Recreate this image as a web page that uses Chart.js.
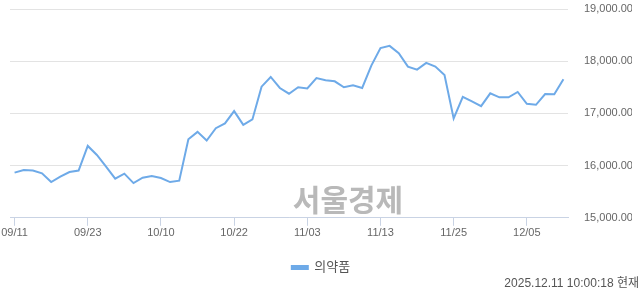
<!DOCTYPE html>
<html>
<head>
<meta charset="utf-8">
<script src="https://cdn.jsdelivr.net/npm/chart.js@4"></script>
<style>
  html, body { margin: 0; padding: 0; background: #fff; }
  #wrap { position: relative; width: 640px; height: 294px; }
  #stamp {
    position: absolute; right: 1px; top: 273px;
    font: 12px "Liberation Sans", "Noto Sans CJK KR", sans-serif;
    color: #555;
  }
</style>
</head>
<body>
<div id="wrap">
  <canvas id="chart" width="640" height="294"></canvas>
  <div id="stamp">2025.12.11 10:00:18 현재</div>
</div>
<script>
// ======================
// DATA
// ======================
const dates = [
  "09/11", "09/12", "09/15", "09/16", "09/17", "09/18", "09/19", "09/22",
  "09/23", "09/24", "09/25", "09/26", "09/29", "09/30", "10/01", "10/02",
  "10/10", "10/13", "10/14", "10/15", "10/16", "10/17", "10/20", "10/21",
  "10/22", "10/23", "10/24", "10/27", "10/28", "10/29", "10/30", "10/31",
  "11/03", "11/04", "11/05", "11/06", "11/07", "11/10", "11/11", "11/12",
  "11/13", "11/14", "11/17", "11/18", "11/19", "11/20", "11/21", "11/24",
  "11/25", "11/26", "11/27", "11/28", "12/01", "12/02", "12/03", "12/04",
  "12/05", "12/08", "12/09", "12/10", "12/11"
];

const pharmaValues = [
  15865, 15915, 15904, 15852, 15685, 15788, 15877, 15904,
  16377, 16204, 15981, 15750, 15846, 15665, 15769, 15800,
  15762, 15685, 15712, 16506, 16646, 16481, 16717, 16808,
  17044, 16781, 16885, 17512, 17698, 17487, 17377, 17500,
  17477, 17676, 17635, 17615, 17500, 17538, 17487, 17915,
  18250, 18294, 18154, 17896, 17838, 17967, 17896, 17737,
  16904, 17319, 17231, 17140, 17385, 17308, 17308, 17410,
  17185, 17165, 17371, 17365, 17654
];

const xTickIndex = [0, 8, 16, 24, 32, 40, 48, 56];
const yTicks = [15000, 16000, 17000, 18000, 19000];

const seriesName = "의약품";
const watermark = "서울경제";

// ======================
// STYLE
// ======================
const LINE_COLOR = "#6eaae8";
const AXIS_COLOR = "#c9d3e4";
const GRID_COLOR = "#e3e3e3";
const TEXT_COLOR = "#666";
const FONT = "\"Liberation Sans\", \"Noto Sans CJK KR\", sans-serif";

// watermark drawn behind the line
const watermarkPlugin = {
  id: "watermark",
  beforeDatasetsDraw(chart) {
    const { ctx, chartArea } = chart;
    ctx.save();
    ctx.font = "bold 30px \"Noto Sans CJK KR\", sans-serif";
    ctx.fillStyle = "#b9b9b9";
    ctx.textAlign = "center";
    ctx.textBaseline = "middle";
    ctx.fillText(watermark, chartArea.right - 220, chartArea.bottom - 18);
    ctx.restore();
  }
};

new Chart(document.getElementById("chart"), {
  type: "line",
  data: {
    datasets: [{
      label: seriesName,
      data: pharmaValues.map((v, i) => ({ x: i, y: v })),
      borderColor: LINE_COLOR,
      backgroundColor: LINE_COLOR,
      borderWidth: 2,
      pointRadius: 0,
      tension: 0
    }]
  },
  options: {
    responsive: false,
    animation: false,
    layout: {
      padding: { left: 10, right: 8, top: 9, bottom: 10 }
    },
    plugins: {
      legend: {
        position: "bottom",
        labels: {
          boxWidth: 16,
          boxHeight: 3,
          padding: 20,
          color: "#555",
          font: { family: FONT, size: 13 }
        }
      },
      tooltip: { enabled: false }
    },
    scales: {
      x: {
        type: "linear",
        min: -0.5,
        max: dates.length - 0.5,
        afterBuildTicks: (scale) => {
          scale.ticks = xTickIndex.map(v => ({ value: v }));
        },
        ticks: {
          autoSkip: false,
          maxRotation: 0,
          padding: 1,
          color: TEXT_COLOR,
          font: { family: FONT, size: 11 },
          callback: (v) => dates[v]
        },
        grid: {
          drawOnChartArea: false,
          color: AXIS_COLOR,
          tickLength: 8
        },
        border: { color: AXIS_COLOR }
      },
      y: {
        position: "right",
        min: yTicks[0],
        max: yTicks[yTicks.length - 1],
        afterBuildTicks: (scale) => {
          scale.ticks = yTicks.map(v => ({ value: v }));
        },
        afterFit: (scale) => {
          scale.width = 64;
        },
        ticks: {
          padding: 0,
          color: TEXT_COLOR,
          font: { family: FONT, size: 11 },
          callback: (v) => v.toLocaleString("en-US", { minimumFractionDigits: 2 })
        },
        grid: {
          color: GRID_COLOR,
          drawTicks: true,
          tickLength: 16,
          tickColor: "transparent"
        },
        border: { display: false }
      }
    }
  },
  plugins: [watermarkPlugin]
});
</script>
</body>
</html>
